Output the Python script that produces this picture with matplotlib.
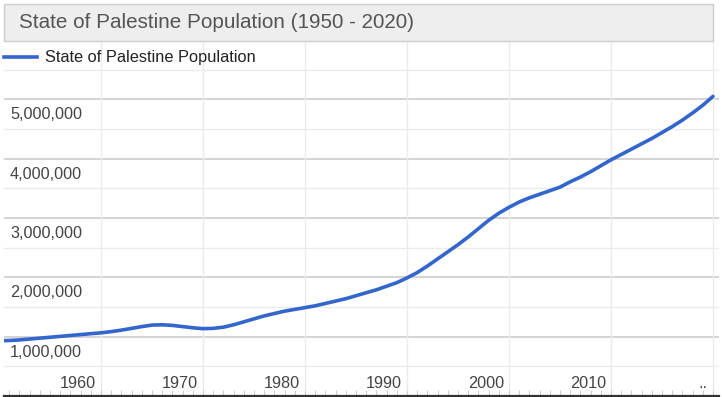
import matplotlib.pyplot as plt
from matplotlib.patches import Rectangle
from matplotlib.ticker import MultipleLocator
import matplotlib.transforms as mtransforms

plt.rcParams['font.family'] = ['Liberation Sans', 'DejaVu Sans']

# values (millions)
years = list(range(1950, 2021))
population_m = [
    0.93, 0.935, 0.945, 0.96, 0.975, 0.99, 1.005, 1.02, 1.035, 1.05,      # 1950-59
    1.065, 1.085, 1.11, 1.14, 1.17, 1.195, 1.20, 1.19, 1.17, 1.15,        # 1960-69
    1.135, 1.14, 1.16, 1.20, 1.25, 1.30, 1.35, 1.39, 1.43, 1.46,          # 1970-79
    1.49, 1.52, 1.56, 1.60, 1.64, 1.69, 1.74, 1.79, 1.85, 1.91,           # 1980-89
    1.99, 2.08, 2.19, 2.31, 2.43, 2.55, 2.68, 2.82, 2.96, 3.08,           # 1990-99
    3.18, 3.27, 3.34, 3.40, 3.46, 3.52, 3.61, 3.69, 3.78, 3.88,           # 2000-09
    3.98, 4.07, 4.16, 4.25, 4.34, 4.44, 4.54, 4.65, 4.77, 4.90,           # 2010-19
    5.05,                                                                 # 2020
]
population = [v * 1e6 for v in population_m]

x_ticks = [1960, 1970, 1980, 1990, 2000, 2010, 2020]
x_labels = ["1960", "1970", "1980", "1990", "2000", "2010", ".."]
y_ticks = [1e6, 2e6, 3e6, 4e6, 5e6]
y_labels = ["1,000,000", "2,000,000", "3,000,000", "4,000,000", "5,000,000"]

title = "State of Palestine Population (1950 - 2020)"
series_name = "State of Palestine Population"
LINE = "#3366cc"

W, H = 722, 397
fig = plt.figure(figsize=(W / 100, H / 100), dpi=100)


def px(x0, y0, x1, y1):
    """pixel box (top-left origin) -> figure fraction rect"""
    return [x0 / W, 1 - y1 / H, (x1 - x0) / W, (y1 - y0) / H]


ax = fig.add_axes(px(4, 40, 719, 396))
ax.set_xlim(1950.49, 2020.59)
ax.set_ylim(0, 6e6)

# grid
for y in range(1, 12):
    v = y * 5e5
    major = y % 2 == 0
    ax.axhline(v, color="#cccccc" if major else "#ebebeb", lw=1.2 if major else 1.0, zorder=1)
for xt in x_ticks:
    ax.axvline(xt, color="#ebebeb", lw=1.0, zorder=1)

ax.plot(years, population, color=LINE, lw=2.6, zorder=3,
        solid_capstyle="round", solid_joinstyle="round")

for s in ["top", "left", "right"]:
    ax.spines[s].set_visible(False)
ax.spines["bottom"].set_color("#333333")
ax.spines["bottom"].set_linewidth(1.6)
ax.set_xticks([])
ax.set_yticks([])
ax.xaxis.set_minor_locator(MultipleLocator(1))
ax.tick_params(axis="x", which="minor", direction="in", length=4, width=0.8, color="#d0d0d0")

# y labels below the gridlines, inside plot
for v, lab in zip(y_ticks, y_labels):
    tr = mtransforms.offset_copy(ax.transData, fig=fig, x=6, y=-8, units="dots")
    ax.text(1950.49, v, lab, transform=tr, ha="left", va="top", fontsize=11.7,
            color="#444444", zorder=4)

# x labels right-aligned before gridlines
for xt, lab in zip(x_ticks, x_labels):
    tr = mtransforms.offset_copy(ax.transData, fig=fig, x=-5, y=5, units="dots")
    ax.text(xt, 0, lab, transform=tr, ha="right", va="bottom", fontsize=11.7,
            color="#444444", zorder=4)

# title box
fig.patches.append(Rectangle((4 / W, 1 - 40.7 / H), (713 - 4) / W, 36.7 / H,
                             transform=fig.transFigure, facecolor="#eeeeee",
                             edgecolor="#cccccc", lw=1.0))
fig.text(19 / W, 1 - 23 / H, title, ha="left", va="center", fontsize=14.9, color="#555555")

# legend
fig.add_artist(plt.Line2D([4 / W, 37 / W], [1 - 57 / H, 1 - 57 / H], color=LINE, lw=2.6,
                          transform=fig.transFigure))
fig.text(45 / W, 1 - 57.5 / H, series_name, ha="left", va="center", fontsize=11.8, color="#222222")

fig.savefig("out.png", dpi=100)
